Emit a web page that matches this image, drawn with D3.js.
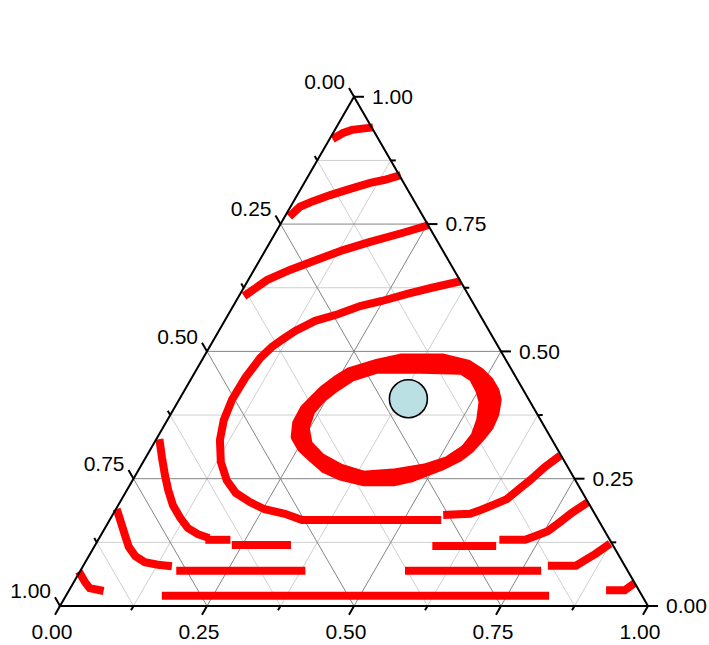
<!DOCTYPE html>
<html><head><meta charset="utf-8">
<script src="https://cdn.jsdelivr.net/npm/d3@7"></script>
<style>
body{margin:0;background:#fff;}
svg{display:block;}
text{font-family:"Liberation Sans",Arial,sans-serif;font-size:21px;fill:#000;}
</style>
</head><body><svg id="chart" width="709" height="645"></svg>
<script>
// Ternary data: each point is [b, r]
//   b = bottom-axis component (1 at bottom-right vertex)
//   r = right-axis component  (1 at top vertex)
//   left-axis component = 1 - b - r (1 at bottom-left vertex)
const tickValues = [0, 0.25, 0.5, 0.75, 1];
const tickLabels = ["0.00", "0.25", "0.50", "0.75", "1.00"];
const minorTickValues = [0.125, 0.375, 0.625, 0.875];
const gridMajor = [0.25, 0.5, 0.75];
const gridMinor = [0.125, 0.375, 0.625, 0.875];

const sweep1 = [[0.009,0.921],[0.017,0.929],[0.029,0.935],[0.056,0.939]];
const sweep2 = [[0.010,0.770],[0.016,0.784],[0.033,0.795],[0.056,0.807],[0.084,0.819],[0.112,0.831],[0.134,0.837],[0.151,0.844]];
const sweep3 = [[0.012,0.613],[0.032,0.640],[0.061,0.660],[0.097,0.680],[0.132,0.699],[0.170,0.715],[0.217,0.733],[0.248,0.746]];
const sweep4 = [[0.357,0.636],[0.320,0.625],[0.284,0.613],[0.248,0.599],[0.216,0.589],[0.186,0.573],[0.154,0.560],[0.130,0.540],[0.117,0.524],[0.106,0.509],[0.097,0.487],[0.091,0.448],[0.090,0.405],[0.096,0.365],[0.109,0.326],[0.132,0.283],[0.160,0.247],[0.188,0.222],[0.221,0.204],[0.253,0.190],[0.292,0.181],[0.327,0.169],[0.557,0.169]];
const sweep4b = [[0.569,0.179],[0.607,0.181],[0.622,0.189],[0.640,0.200],[0.655,0.210],[0.665,0.228],[0.676,0.247],[0.688,0.273],[0.700,0.291]];
const row3Left = [[0.239,0.120],[0.326,0.120]];
const row3Short = [[0.189,0.130],[0.218,0.130]];
const row3Right = [[0.581,0.118],[0.676,0.118]];
const sweep5Right = [[0.689,0.130],[0.726,0.130],[0.739,0.137],[0.756,0.147],[0.768,0.165],[0.779,0.183],[0.793,0.200]];
const curveLeft2 = [[0.010,0.320],[0.028,0.291],[0.050,0.257],[0.070,0.228],[0.093,0.198],[0.118,0.173],[0.141,0.153],[0.164,0.141],[0.179,0.136]];
const curveLeft1 = [[0.007,0.183],[0.021,0.165],[0.041,0.139],[0.059,0.116],[0.079,0.098],[0.101,0.086],[0.126,0.081],[0.144,0.079]];
const row2Left = [[0.170,0.069],[0.376,0.069]];
const row2Right = [[0.559,0.069],[0.777,0.069]];
const sweep6Right = [[0.797,0.079],[0.838,0.079],[0.848,0.090],[0.859,0.102],[0.871,0.118]];
const rowBottom = [[0.170,0.020],[0.815,0.020]];
const cornerLeft = [[0.005,0.061],[0.019,0.047],[0.033,0.035],[0.052,0.031]];
const cornerRight = [[0.920,0.031],[0.945,0.031],[0.952,0.041]];

// inner cycle: several close turns forming a thick band
const loopOuter = [[0.338,0.487],[0.408,0.487],[0.456,0.475],[0.484,0.460],[0.509,0.442],[0.529,0.422],[0.541,0.405],[0.551,0.377],[0.554,0.352],[0.550,0.332],[0.543,0.308],[0.532,0.291],[0.512,0.275],[0.491,0.263],[0.470,0.251],[0.445,0.244],[0.394,0.244],[0.350,0.255],[0.316,0.269],[0.286,0.289],[0.256,0.310],[0.234,0.332],[0.223,0.359],[0.222,0.387],[0.228,0.405],[0.235,0.424],[0.248,0.444],[0.262,0.460],[0.302,0.477]];
const loopMid = [[0.303,0.471],[0.374,0.477],[0.434,0.475],[0.473,0.462],[0.504,0.438],[0.525,0.412],[0.542,0.375],[0.548,0.346],[0.546,0.322],[0.537,0.300],[0.518,0.281],[0.489,0.267],[0.441,0.251],[0.391,0.249],[0.345,0.263],[0.308,0.279],[0.271,0.302],[0.244,0.326],[0.230,0.355],[0.227,0.387],[0.234,0.407],[0.245,0.428],[0.256,0.450],[0.278,0.464]];
const loopInner = [[0.306,0.465],[0.380,0.465],[0.452,0.463],[0.479,0.448],[0.502,0.424],[0.519,0.401],[0.533,0.365],[0.539,0.334],[0.534,0.306],[0.516,0.285],[0.485,0.271],[0.436,0.261],[0.387,0.257],[0.341,0.271],[0.299,0.291],[0.263,0.318],[0.242,0.350],[0.235,0.383],[0.241,0.407],[0.254,0.428],[0.272,0.450]];
const arcRight = [[0.407,0.479],[0.448,0.471],[0.485,0.452],[0.518,0.420],[0.534,0.395],[0.545,0.365],[0.545,0.338],[0.538,0.312],[0.521,0.291]];

const equilibrium = [0.389, 0.407];

const openSegments = [sweep1, sweep2, sweep3, sweep4, sweep4b, row3Left, row3Short, row3Right,
  sweep5Right, curveLeft2, curveLeft1, row2Left, row2Right, sweep6Right, rowBottom, cornerLeft, cornerRight];
const closedLoops = [loopOuter, loopMid, loopInner];
const bandArcs = [arcRight];

// ---------- drawing ----------
const svg = d3.select("#chart");
const side = 588;
const hScale = d3.scaleLinear().domain([0, 1]).range([60, 60 + side]);
const vScale = d3.scaleLinear().domain([0, 1]).range([606, 606 - side * Math.sqrt(3) / 2]);
const px = (b, r) => hScale(b + r / 2);
const py = (b, r) => vScale(r);

const gGrid = svg.append("g");
function gridLines(vals, color) {
  vals.forEach(v => {
    gGrid.append("line").attr("x1", px(0, v)).attr("y1", py(0, v)).attr("x2", px(1 - v, v)).attr("y2", py(1 - v, v))
      .attr("stroke", color).attr("stroke-width", 1);
    gGrid.append("line").attr("x1", px(v, 0)).attr("y1", py(v, 0)).attr("x2", px(v, 1 - v)).attr("y2", py(v, 1 - v))
      .attr("stroke", color).attr("stroke-width", 1);
    gGrid.append("line").attr("x1", px(1 - v, 0)).attr("y1", py(1 - v, 0)).attr("x2", px(0, 1 - v)).attr("y2", py(0, 1 - v))
      .attr("stroke", color).attr("stroke-width", 1);
  });
}
gridLines(gridMinor, "#cfcfcf");
gridLines(gridMajor, "#858585");

const line = d3.line().x(d => px(d[0], d[1])).y(d => py(d[0], d[1]));
const lineClosed = d3.line().x(d => px(d[0], d[1])).y(d => py(d[0], d[1])).curve(d3.curveLinearClosed);
const gData = svg.append("g");
openSegments.forEach(s => gData.append("path").attr("d", line(s)).attr("fill", "none")
  .attr("stroke", "#ff0000").attr("stroke-width", 8).attr("stroke-linecap", "square").attr("stroke-linejoin", "miter"));
closedLoops.forEach(s => gData.append("path").attr("d", lineClosed(s)).attr("fill", "none")
  .attr("stroke", "#ff0000").attr("stroke-width", 9).attr("stroke-linejoin", "round"));
bandArcs.forEach(s => gData.append("path").attr("d", line(s)).attr("fill", "none")
  .attr("stroke", "#ff0000").attr("stroke-width", 9).attr("stroke-linecap", "round").attr("stroke-linejoin", "round"));

// triangle frame
const gAxes = svg.append("g");
const corners = [[0, 0], [1, 0], [0, 1]];
gAxes.append("path").attr("d", lineClosed(corners)).attr("fill", "none").attr("stroke", "#000").attr("stroke-width", 2);

const c60 = 0.5, s60 = Math.sqrt(3) / 2;
function ticks(vals, len) {
  vals.forEach(v => {
    let x = px(v, 0), y = py(v, 0);
    gAxes.append("line").attr("x1", x).attr("y1", y).attr("x2", x - c60 * len).attr("y2", y + s60 * len).attr("stroke", "#000").attr("stroke-width", 2);
    x = px(1 - v, v); y = py(1 - v, v);
    gAxes.append("line").attr("x1", x).attr("y1", y).attr("x2", x + len).attr("y2", y).attr("stroke", "#000").attr("stroke-width", 2);
    x = px(0, 1 - v); y = py(0, 1 - v);
    gAxes.append("line").attr("x1", x).attr("y1", y).attr("x2", x - c60 * len).attr("y2", y - s60 * len).attr("stroke", "#000").attr("stroke-width", 2);
  });
}
ticks(tickValues, 10);
ticks(minorTickValues, 5);

tickValues.forEach((v, i) => {
  const lab = tickLabels[i];
  gAxes.append("text").attr("x", px(v, 0) - 8).attr("y", py(v, 0) + 33).attr("text-anchor", "middle").text(lab);
  gAxes.append("text").attr("x", px(1 - v, v) + 18).attr("y", py(1 - v, v)).attr("dy", "0.35em").attr("text-anchor", "start").text(lab);
  gAxes.append("text").attr("x", px(0, 1 - v) - 9).attr("y", py(0, 1 - v) - 15).attr("dy", "0.35em").attr("text-anchor", "end").text(lab);
});

svg.append("circle").attr("cx", px(equilibrium[0], equilibrium[1])).attr("cy", py(equilibrium[0], equilibrium[1]))
  .attr("r", 19).attr("fill", "#bbe0e3").attr("stroke", "#000").attr("stroke-width", 1.6);
</script>
</body></html>
